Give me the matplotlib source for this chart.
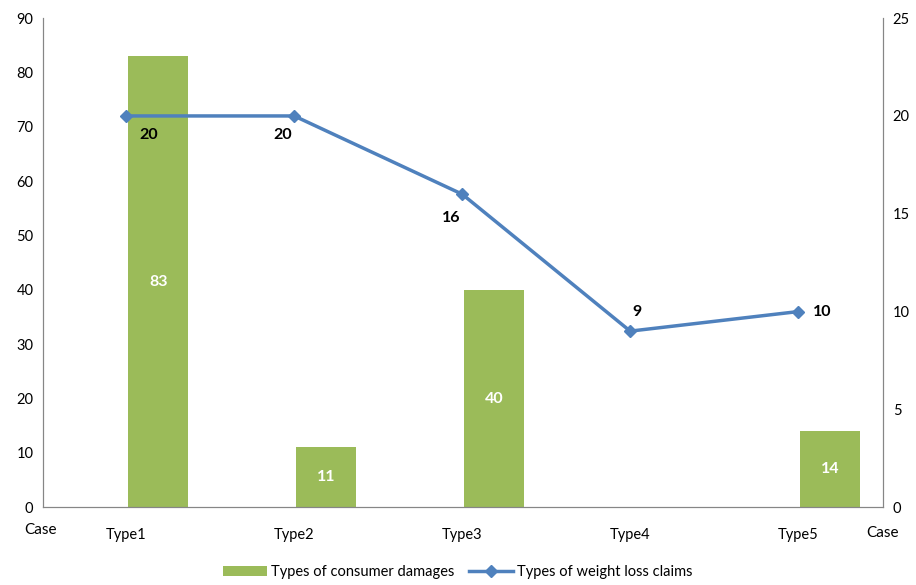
import numpy as np
import matplotlib.pyplot as plt

plt.rcParams['font.family'] = ['Lato', 'DejaVu Sans']

types = ['Type1', 'Type2', 'Type3', 'Type4', 'Type5']
damages = [83, 11, 40, 0, 14]
claims = [20, 20, 16, 9, 10]

green = '#9BBB59'
blue = '#4F81BD'

fig = plt.figure(figsize=(9.16, 5.85), dpi=100)
ax = fig.add_axes([0.047, 0.133, 0.917, 0.836])
ax2 = ax.twinx()

x = np.arange(len(types))
shift = 0.19

bars = ax.bar(x, damages, width=0.36, color=green, label='Types of consumer damages')
for xi, v in zip(x, damages):
    if v > 0:
        ax.text(xi, v / 2, str(v), ha='center', va='center', color='white',
                fontsize=11.5, fontweight='bold')

ax2.plot(x - shift, claims, color=blue, lw=2.5, marker='D', markersize=6,
         label='Types of weight loss claims')

# label offsets (points) for the line values
offs = [(16, -14), (-8, -14), (-8, -17), (5, 14), (17, 0)]
for xi, v, (dx, dy) in zip(x - shift, claims, offs):
    ax2.annotate(str(v), (xi, v), xytext=(dx, dy), textcoords='offset points',
                 ha='center', va='center', fontsize=11.5, fontweight='bold')

ax.set_xlim(-0.685, 4.315)
ax.set_ylim(0, 90)
ax.set_yticks(range(0, 91, 10))
ax2.set_ylim(0, 25)
ax2.set_yticks(range(0, 26, 5))
ax.set_xticks(x - shift)
ax.set_xticklabels(types)

for a in (ax, ax2):
    a.spines['top'].set_visible(False)
    for s in ('left', 'right', 'bottom'):
        a.spines[s].set_color('#868686')
    a.tick_params(length=0, labelsize=10.5, pad=7)
ax.tick_params(axis='x', pad=15)

fig.text(0.044, 0.094, 'Case', ha='center', va='center', fontsize=11)
fig.text(0.963, 0.089, 'Case', ha='center', va='center', fontsize=11)

h1, l1 = ax.get_legend_handles_labels()
h2, l2 = ax2.get_legend_handles_labels()
fig.legend(h1 + h2, l1 + l2, loc='lower center', ncol=2, frameon=False,
           fontsize=10.5, bbox_to_anchor=(0.5, -0.012), handlelength=3.0,
           columnspacing=1.0, handletextpad=0.3)

fig.savefig('out.png')
